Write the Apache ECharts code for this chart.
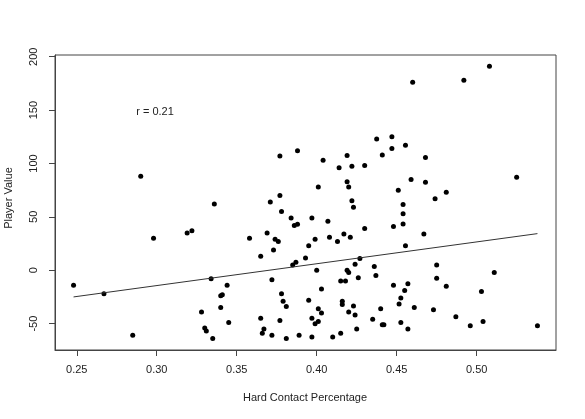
<!DOCTYPE html>
<html>
<head>
<meta charset="utf-8">
<script src="https://cdn.jsdelivr.net/npm/echarts@6/dist/echarts.min.js"></script>
<style>
  html, body { margin: 0; padding: 0; background: #fff; }
  #main { width: 585px; height: 419px; }
</style>
</head>
<body>
<div id="main"></div>
<script>
// hard contact % vs player value
const hardContact = [
  0.248, 0.267, 0.285, 0.290, 0.298, 0.319, 0.322, 0.336, 0.334, 0.344,
  0.340, 0.341, 0.340, 0.328, 0.345, 0.330, 0.331, 0.335, 0.358, 0.365,
  0.369, 0.371, 0.377, 0.377, 0.378, 0.388, 0.384, 0.386, 0.388, 0.374,
  0.376, 0.373, 0.372, 0.378, 0.379, 0.381, 0.377, 0.365, 0.367, 0.366,
  0.372, 0.381, 0.389, 0.385, 0.387, 0.393, 0.395, 0.395,
  0.397, 0.399, 0.400, 0.403, 0.401, 0.403, 0.401, 0.399, 0.397, 0.397,
  0.401, 0.404, 0.407, 0.408, 0.413, 0.417, 0.421, 0.414, 0.419, 0.422,
  0.430, 0.419, 0.420, 0.422, 0.423, 0.430, 0.427, 0.424, 0.419, 0.420,
  0.415, 0.418, 0.426, 0.416, 0.416, 0.423, 0.420, 0.424, 0.410, 0.415,
  0.425, 0.435, 0.441, 0.442, 0.440, 0.436, 0.437, 0.4375, 0.441, 0.447,
  0.447, 0.4555, 0.451, 0.454, 0.454, 0.454, 0.448, 0.4555, 0.448, 0.455,
  0.457, 0.4526, 0.4515, 0.4526, 0.457,
  0.460, 0.492, 0.508, 0.468, 0.459, 0.468, 0.525, 0.474, 0.481, 0.467,
  0.475, 0.475, 0.481, 0.511, 0.503, 0.461, 0.473, 0.487, 0.496, 0.504,
  0.538
];
const playerValue = [
  -14, -22, -61, 88, 30, 35, 37, 62, -8, -14,
  -24, -23, -35, -39, -49, -54, -57, -64, 30, 13,
  35, 64, 107, 70, 55, 112, 49, 42, 43, 29,
  27, 19, -9, -22, -29, -34, -47, -45, -55, -59,
  -61, -64, -61, 5, 7.5, 11.5, 23, -28,
  49, 29, 0, -17.5, -36, -40, -48, -50, -45, -62.5,
  78, 103, 46, 31, 27, 34, 31, 96, 107.5, 97.5,
  98, 83, 78, 65, 59, 39, 11, 5.6, 0, -2,
  -10, -10, -7, -29, -32, -33.5, -39, -42, -62.5, -59,
  -55, -46, -51, -51, -36, 3.4, -5, 123, 108, 125,
  114, 117, 75, 61.5, 53, 43.4, 41, 23, -14, -19,
  -12.6, -26, -31.6, -49, -55,
  176, 178, 191, 105.6, 85, 82.5, 87, 67, 73, 34,
  5, -7.5, -15, -2, -20, -35, -37, -43.5, -52, -48,
  -52
];
// fitted line end points
const fitX = [0.248, 0.538];
const fitY = [-25.0, 34.3];

const xTicks = [0.25, 0.30, 0.35, 0.40, 0.45, 0.50];
const yTicks = [-50, 0, 50, 100, 150, 200];

var points = hardContact.map((x, i) => [x, playerValue[i]]);
var fitLine = fitX.map((x, i) => [x, fitY[i]]);

var font = 'Liberation Sans, Arial, sans-serif';
var txt = '#222';
var chart = echarts.init(document.getElementById('main'));
var option = {
  animation: false,
  grid: {
    left: 55, right: 29, top: 55, bottom: 69,
    show: true, borderColor: '#444', borderWidth: 1
  },
  xAxis: {
    type: 'value',
    min: 0.2364,
    max: 0.5496,
    axisLine: { show: true, onZero: false, lineStyle: { color: '#444' } },
    axisTick: { show: true, customValues: xTicks, length: 6, lineStyle: { color: '#444' } },
    axisLabel: {
      customValues: xTicks,
      formatter: v => v.toFixed(2),
      margin: 14, fontSize: 11, color: txt, fontFamily: font
    },
    splitLine: { show: false }
  },
  yAxis: {
    type: 'value',
    min: -74.7,
    max: 201.6,
    axisLine: { show: true, onZero: false, lineStyle: { color: '#444' } },
    axisTick: { show: true, customValues: yTicks, length: 6, lineStyle: { color: '#444' } },
    axisLabel: {
      customValues: yTicks,
      rotate: 90,
      margin: 16, fontSize: 11, color: txt, fontFamily: font
    },
    splitLine: { show: false }
  },
  graphic: [
    { type: 'text', x: 305, y: 398,
      style: { text: 'Hard Contact Percentage', align: 'center', verticalAlign: 'middle', font: '11px ' + font, fill: txt } },
    { type: 'text', x: 9, y: 198, rotation: Math.PI / 2,
      style: { text: 'Player Value', align: 'center', verticalAlign: 'middle', font: '11px ' + font, fill: txt } },
    { type: 'text', x: 155, y: 112,
      style: { text: 'r = 0.21', align: 'center', verticalAlign: 'middle', font: '11px ' + font, fill: txt } }
  ],
  series: [{
    type: 'scatter',
    data: points,
    symbolSize: 5,
    itemStyle: { color: '#000', opacity: 1 }
  }, {
    type: 'line',
    data: fitLine,
    symbol: 'none',
    lineStyle: { color: '#333', width: 1 }
  }]
};
chart.setOption(option);
</script>
</body>
</html>
